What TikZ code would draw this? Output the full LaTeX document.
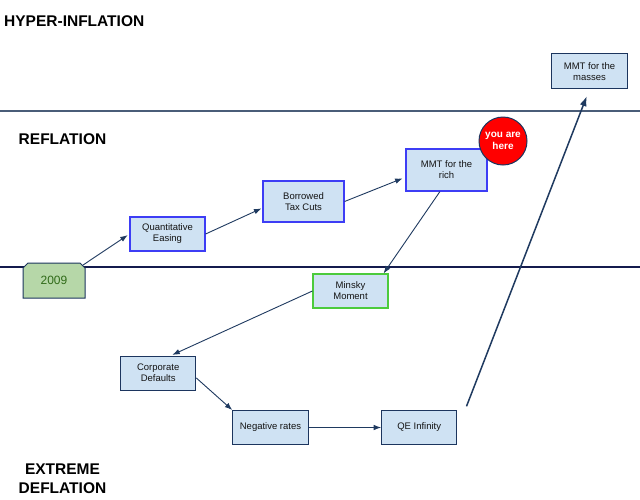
\documentclass[tikz,border=0pt]{standalone}
\usepackage{fontspec}
\setmainfont{Liberation Sans}
\usetikzlibrary{arrows.meta,shapes.misc,calc}
\definecolor{boxfill}{HTML}{CFE2F3}
\definecolor{bluebd}{HTML}{3D3DF5}
\definecolor{greenbd}{HTML}{4CCB3C}
\definecolor{navybd}{HTML}{1C355E}
\definecolor{arrowc}{HTML}{1F3A60}
\definecolor{toplinec}{HTML}{4A5D78}
\definecolor{midlinec}{HTML}{141B4D}
\definecolor{fillyear}{HTML}{B6D7A8}
\definecolor{textyear}{HTML}{2F6A18}
\definecolor{txt}{HTML}{141414}
\definecolor{herered}{HTML}{FF0000}
\begin{document}
\begin{tikzpicture}[x=1pt,y=-1pt,
  stage/.style={font=\fontsize{15.5}{20}\selectfont\bfseries, anchor=base, inner sep=0pt},
  box/.style={draw=navybd, fill=boxfill, minimum width=75pt, minimum height=34pt,
    align=center, inner sep=1pt, font=\fontsize{9.5}{11}\selectfont, text=txt, line width=1pt},
  bluebox/.style={box, draw=bluebd, line width=1.2pt},
  greenbox/.style={box, draw=greenbd, line width=1.2pt},
  conn/.style={draw=arrowc, line width=0.9pt, -{Latex[length=7.5pt,width=5.5pt]}},
  bigconn/.style={draw=arrowc, line width=1.5pt, -{Latex[length=10pt,width=7pt]}},
]
\useasboundingbox (0,0) rectangle (640,499);
\fill[white] (0,0) rectangle (640,499);

% regime lines
\draw[toplinec, line width=1.3pt] (0,111) -- (640,111);
\draw[midlinec, line width=1.3pt] (0,267) -- (640,267);

% regime labels
\node[stage, anchor=base west] (hyper) at (4,26) {HYPER-INFLATION};
\node[stage] (refl) at (62.5,144.3) {REFLATION};
\node[stage] (extr) at (62.5,474) {EXTREME};
\node[stage] (defl) at (62.5,493.3) {DEFLATION};

% nodes
\node[chamfered rectangle, chamfered rectangle corners={north west,north east},
  chamfered rectangle xsep=2.5pt, chamfered rectangle ysep=2.5pt,
  draw=navybd, fill=fillyear, line width=1pt, minimum width=62pt, minimum height=35pt,
  inner sep=1pt, text=textyear, font=\fontsize{12}{14}\selectfont] (y2009) at (54,280.5) {2009};
\node[bluebox] (qe) at (167.5,234) {Quantitative\\Easing};
\node[bluebox, minimum width=81pt, minimum height=41pt] (borrowed) at (303.5,201.5) {Borrowed\\Tax Cuts};
\node[bluebox, minimum width=81pt, minimum height=42pt] (rich) at (446.5,170) {MMT for the\\rich};
\node[circle, draw=navybd, line width=1pt, fill=herered, minimum size=48pt, inner sep=0pt,
  align=center, text=white, font=\fontsize{10}{11.5}\selectfont\bfseries] (here) at (503,141) {you are\\here};
\node[box, minimum width=75.5pt, minimum height=34.7pt] (masses) at (589.5,71.3) {MMT for the\\masses};
\node[greenbox] (minsky) at (350.5,291) {Minsky\\Moment};
\node[box] (corp) at (158.2,373.2) {Corporate\\Defaults};
\node[box, minimum width=75.5pt] (neg) at (270.5,427.5) {Negative rates};
\node[box] (qinf) at (419.2,427.5) {QE Infinity};
\coordinate (qstart) at ($(qinf.north east)+(9.3,-3.7)$);

% connectors
\draw[conn, shorten >=2pt] (y2009.north east) -- (qe.west);
\draw[conn, shorten >=1pt] (qe.east) -- (borrowed.189);
\draw[conn, shorten >=3pt] (borrowed.east) -- (rich.190);
\draw[conn] (rich.253) -- (minsky.28);
\draw[conn, shorten >=2pt] (minsky.west) -- (corp.55);
\draw[conn] (corp.353) -- (neg.north west);
\draw[conn] (neg.east) -- (qinf.west);
\draw[bigconn, shorten >=7.5pt] (qstart) -- (masses.south);
\end{tikzpicture}
\end{document}
